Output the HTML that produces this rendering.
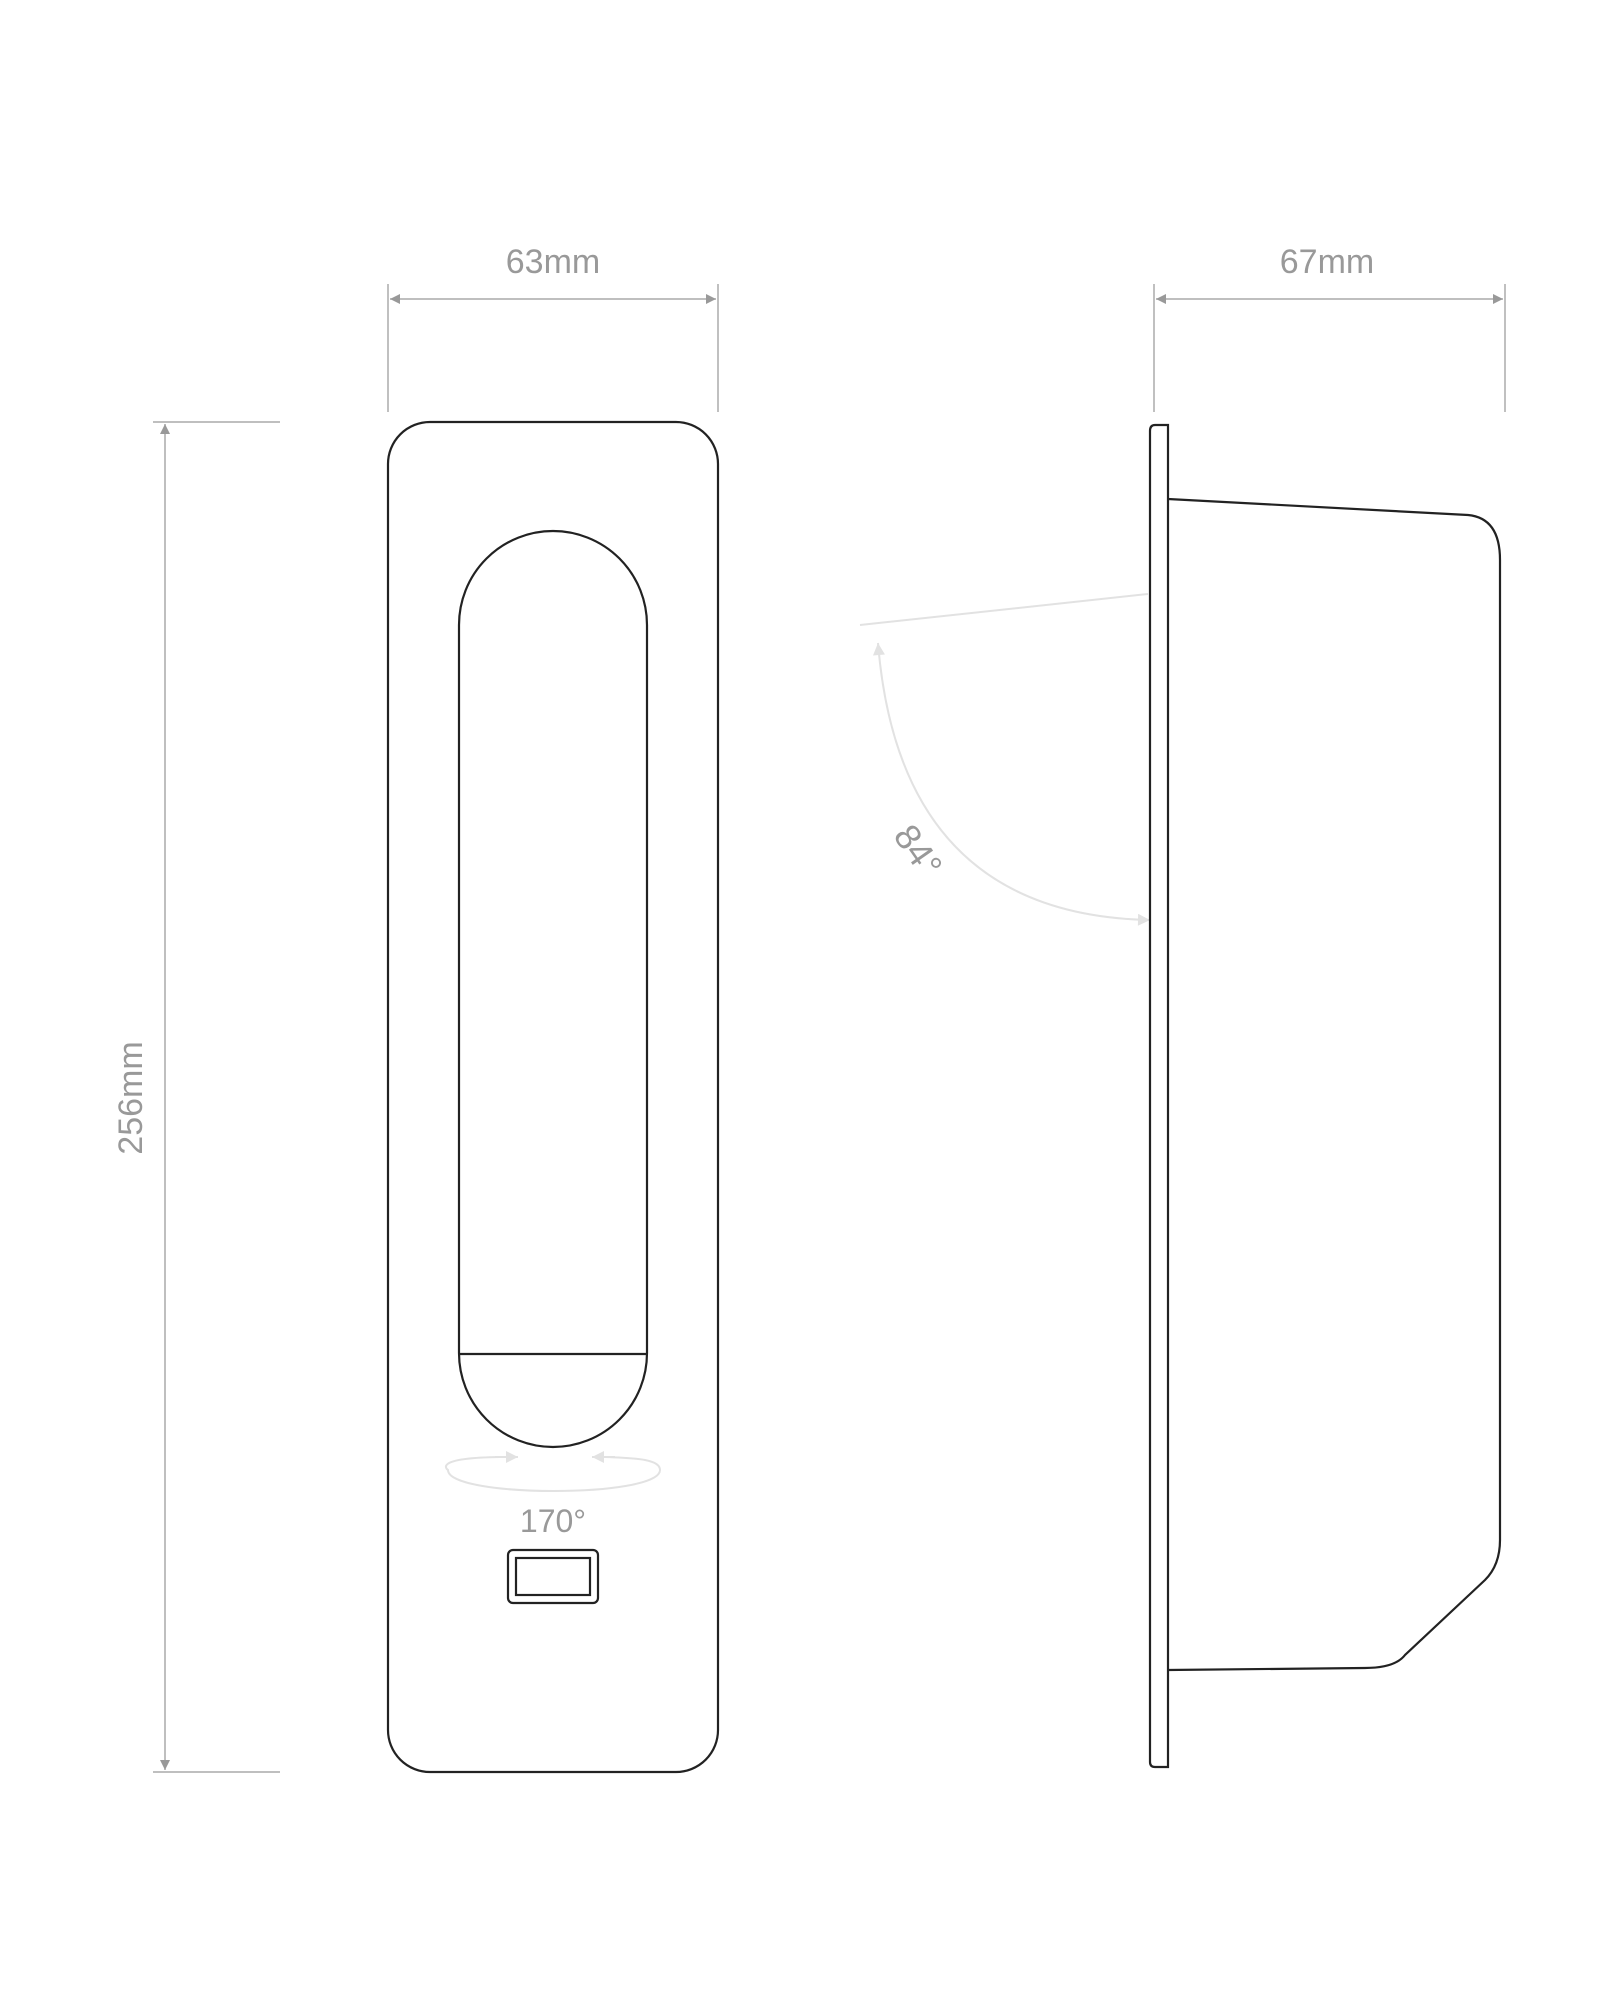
<!DOCTYPE html>
<html><head><meta charset="utf-8"><style>html,body{margin:0;padding:0;background:#fff}svg{display:block}</style></head>
<body>
<svg width="1601" height="2000" viewBox="0 0 1601 2000" xmlns="http://www.w3.org/2000/svg">
<defs>
<marker id="ah" viewBox="0 0 10 10" refX="10" refY="5" markerWidth="14" markerHeight="10" markerUnits="userSpaceOnUse" orient="auto-start-reverse"><path d="M0,0 L10,5 L0,10 z" fill="#999"/></marker>
<marker id="al" viewBox="0 0 10 10" refX="10" refY="5" markerWidth="14" markerHeight="12" markerUnits="userSpaceOnUse" orient="auto-start-reverse"><path d="M0,0 L10,5 L0,10 z" fill="#e2e2e2"/></marker>
</defs>
<g font-family="Liberation Sans, sans-serif" fill="#999" font-size="34">
<text x="553" y="273" text-anchor="middle">63mm</text>
<text x="1327" y="273" text-anchor="middle">67mm</text>
<text transform="translate(142,1098) rotate(-90)" text-anchor="middle">256mm</text>
<text x="553" y="1532" text-anchor="middle" font-size="32">170°</text>
<text transform="translate(908,858) rotate(55)" text-anchor="middle" font-size="36">84°</text>
</g>
<g stroke="#aaa" stroke-width="1.5" fill="none">
<line x1="388" y1="284" x2="388" y2="412"/><line x1="718" y1="284" x2="718" y2="412"/>
<line x1="390" y1="299" x2="716" y2="299" marker-start="url(#ah)" marker-end="url(#ah)"/>
<line x1="1154" y1="284" x2="1154" y2="412"/><line x1="1505" y1="284" x2="1505" y2="412"/>
<line x1="1156" y1="299" x2="1503" y2="299" marker-start="url(#ah)" marker-end="url(#ah)"/>
<line x1="153" y1="422" x2="280" y2="422"/><line x1="153" y1="1772" x2="280" y2="1772"/>
<line x1="165" y1="424" x2="165" y2="1770" marker-start="url(#ah)" marker-end="url(#ah)"/>
</g>
<g stroke="#e2e2e2" stroke-width="2" fill="none">
<line x1="1148" y1="594" x2="860" y2="625"/>
<path d="M1150,920 Q900,915 878,643" marker-start="url(#al)" marker-end="url(#al)"/>
<path d="M500,1457 C430,1458 448,1470 448,1470 C448,1498 660,1498 660,1470 C660,1460 640,1458 605,1457"/>
<line x1="495" y1="1457" x2="518" y2="1457" marker-end="url(#al)"/>
<line x1="615" y1="1457" x2="592" y2="1457" marker-end="url(#al)"/>
</g>
<g stroke="#222" stroke-width="2.2" fill="none">
<rect x="388" y="422" width="330" height="1350" rx="42"/>
<path d="M459,625 A94,94 0 0 1 647,625 L647,1353 A94,94 0 0 1 459,1353 Z"/>
<line x1="459" y1="1354" x2="647" y2="1354"/>
<rect x="508" y="1550" width="90" height="53" rx="5"/>
<rect x="516" y="1558" width="74" height="37"/>
<path d="M1168,425 L1155,425 Q1150,425 1150,431 L1150,1762 Q1150,1767 1155,1767 L1168,1767 Z"/>
<path d="M1168,499 L1468,515 Q1500,518 1500,560 L1500,1540 Q1500,1565 1485,1580 L1405,1655 Q1395,1668 1365,1668 L1168,1670"/>
</g>
</svg>
</body></html>
